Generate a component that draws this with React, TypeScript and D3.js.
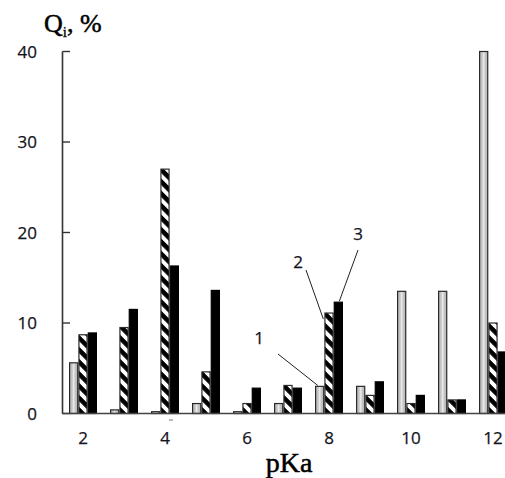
import React from "react";
import * as d3 from "d3";

const categories = [2, 3, 4, 5, 6, 7, 8, 9, 10, 11, 12];
const series1 = [5.6, 0.4, 0.2, 1.1, 0.2, 1.1, 3.0, 3.0, 13.5, 13.5, 40];
const series2 = [8.7, 9.5, 27.0, 4.6, 1.1, 3.1, 11.1, 2.0, 1.1, 1.5, 10.0];
const series3 = [8.9, 11.5, 16.3, 13.6, 2.8, 2.8, 12.3, 3.5, 2.0, 1.5, 6.8];
const seriesKeys = ["1", "2", "3"];
const yTicks = [0, 10, 20, 30, 40];
const xTickLabels = [2, 4, 6, 8, 10, 12];

const W = 505;
const H = 478;

export default function App() {
  const x = d3.scaleBand<number>().domain(categories).range([62.5, 513.5]).padding(0);
  const y = d3.scaleLinear().domain([0, 40]).range([413.5, 51.5]);
  const groupW = 28;
  const inner = d3.scaleBand<string>().domain(seriesKeys).range([0, groupW]).padding(0);
  const cx = (c: number) => (x(c) as number) + x.bandwidth() / 2;
  const values = [series1, series2, series3];
  const fills = ["url(#grayGrad)", "url(#hatch)", "#000"];
  const tickFont = "'Open Sans', 'Noto Sans', sans-serif";
  const serif = "'Liberation Serif', 'DejaVu Serif', serif";

  // annotation anchor points derived from the category-8 bars
  const i8 = categories.indexOf(8);
  const b1x = cx(8) - groupW / 2 + (inner("1") as number) + inner.bandwidth() / 2;
  const b2x = cx(8) - groupW / 2 + (inner("2") as number);
  const b3x = cx(8) - groupW / 2 + (inner("3") as number) + inner.bandwidth() / 2;

  return (
    <svg width={W} height={H} style={{ position: "absolute", left: 0, top: 0, background: "#fff" }}>
      <defs>
        <linearGradient id="grayGrad" x1="0" x2="1" y1="0" y2="0">
          <stop offset="0%" stopColor="#b8b8b8" />
          <stop offset="30%" stopColor="#c4c4c4" />
          <stop offset="50%" stopColor="#ececec" />
          <stop offset="70%" stopColor="#c4c4c4" />
          <stop offset="100%" stopColor="#b8b8b8" />
        </linearGradient>
        <pattern id="hatch" patternUnits="userSpaceOnUse" width={8.5} height={8.5} patternTransform="rotate(45)">
          <rect width={8.5} height={8.5} fill="#fff" />
          <rect width={8.5} height={4.6} fill="#000" />
        </pattern>
      </defs>
      <rect width={W} height={H} fill="#fff" />

      {/* bars */}
      {categories.map((c, ci) => (
        <g key={c} transform={`translate(${cx(c) - groupW / 2},0)`}>
          {seriesKeys.map((k, si) => {
            const v = values[si][ci];
            const top = y(v);
            const h = Math.max(y(0) - top, 1.2);
            return (
              <rect
                key={k}
                x={(inner(k) as number) + 0.6}
                y={y(0) - h}
                width={inner.bandwidth() - 1.2}
                height={h}
                fill={fills[si]}
                stroke={si === 2 ? "#000" : "#2a2a2a"}
                strokeWidth={1.2}
              />
            );
          })}
        </g>
      ))}

      {/* y axis */}
      <line x1={62.5} x2={62.5} y1={y(40)} y2={y(0)} stroke="#333" strokeWidth={1.6} />
      {yTicks.map((t) => (
        <g key={t}>
          <line x1={62.5} x2={70} y1={y(t)} y2={y(t)} stroke="#333" strokeWidth={1.4} />
          <text x={37} y={y(t) + 6} textAnchor="end" fontFamily={tickFont} fontSize={17} fill="#141420" stroke="#141420" strokeWidth={0.25}>
            {t}
          </text>
        </g>
      ))}

      {/* x axis */}
      <line x1={62} x2={W} y1={y(0)} y2={y(0)} stroke="#444" strokeWidth={1.6} />
      {xTickLabels.map((t) => (
        <text key={t} x={cx(t)} y={444} textAnchor="middle" fontFamily={tickFont} fontSize={17} fill="#141420" stroke="#141420" strokeWidth={0.25}>
          {t}
        </text>
      ))}
      <line x1={cx(4) + 4} x2={cx(4) + 8} y1={420} y2={420} stroke="#777" strokeWidth={1} />

      {/* axis titles */}
      <text x={44} y={32} fontFamily={serif} fontSize={26} fill="#000" stroke="#000" strokeWidth={0.5}>
        Q
        <tspan fontSize={15} dy={5} strokeWidth={0.3}>i</tspan>
        <tspan fontSize={26} dy={-5}>, %</tspan>
      </text>
      <text x={289} y={472} textAnchor="middle" fontFamily={serif} fontSize={28} fill="#000" stroke="#000" strokeWidth={0.5}>
        pKa
      </text>

      {/* annotations */}
      <text x={cx(8) - 70} y={344} textAnchor="middle" fontFamily={tickFont} fontSize={17} fill="#141420" stroke="#141420" strokeWidth={0.25}>1</text>
      <line x1={cx(8) - 51} y1={354} x2={b1x - 2} y2={y(series1[i8]) - 1} stroke="#222" strokeWidth={1} />
      <text x={cx(8) - 31} y={268} textAnchor="middle" fontFamily={tickFont} fontSize={17} fill="#141420" stroke="#141420" strokeWidth={0.25}>2</text>
      <line x1={cx(8) - 23} y1={270} x2={b2x - 1} y2={y(series2[i8]) + 6} stroke="#222" strokeWidth={1} />
      <text x={cx(8) + 29} y={240} textAnchor="middle" fontFamily={tickFont} fontSize={17} fill="#141420" stroke="#141420" strokeWidth={0.25}>3</text>
      <line x1={cx(8) + 29} y1={250} x2={b3x + 1} y2={y(series3[i8]) - 1} stroke="#222" strokeWidth={1} />
    </svg>
  );
}
